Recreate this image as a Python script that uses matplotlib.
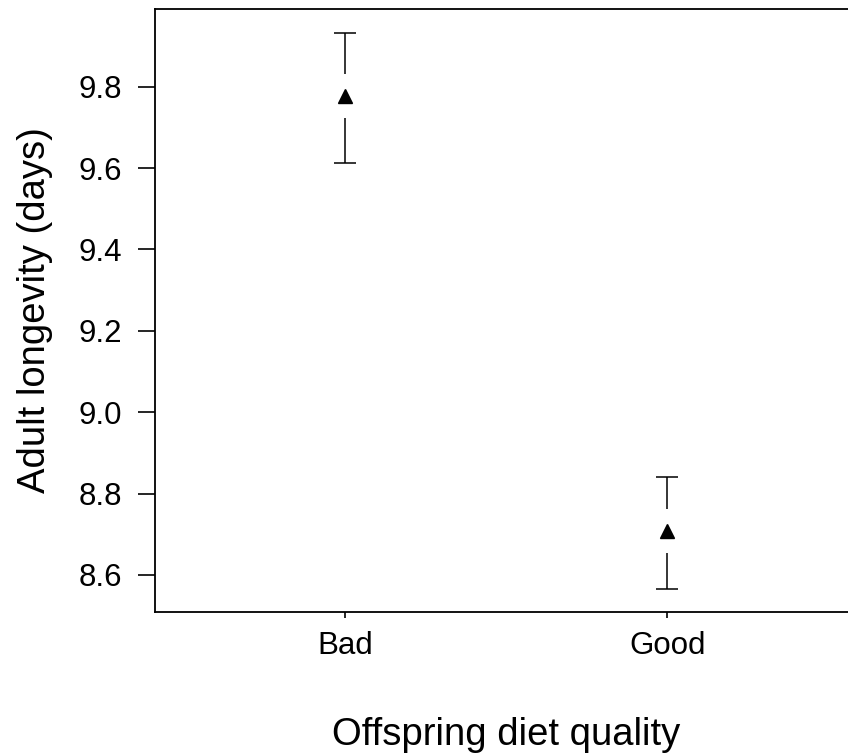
import matplotlib
matplotlib.use('Agg')
import matplotlib.pyplot as plt

plt.rcParams['font.family'] = ['Liberation Sans', 'DejaVu Sans']

# data
diet = ['Bad', 'Good']
longevity_mean = [9.778, 8.708]
longevity_upper = [9.933, 8.840]
longevity_lower = [9.613, 8.566]


def main():
    fig = plt.figure(figsize=(8.48, 7.56), dpi=100)
    # right edge of the box runs slightly past the picture, as in the original
    ax = fig.add_axes([0.1828, 0.1905, 0.828, 0.7976])

    ymin, ymax = 8.509, 9.991
    ax.set_xlim(0.41, 2.59)
    ax.set_ylim(ymin, ymax)

    xs = [i + 1 for i in range(len(diet))]

    # gap between the marker and the whiskers, in data units (about 22 px)
    ax_h_px = 0.7976 * 756
    gap = 22 * (ymax - ymin) / ax_h_px

    ax.vlines(xs, [m + gap for m in longevity_mean], longevity_upper,
              color='black', linewidth=1.1)
    ax.vlines(xs, longevity_lower, [m - gap for m in longevity_mean],
              color='black', linewidth=1.1)
    cap = 0.034
    ax.hlines(longevity_upper, [x - cap for x in xs], [x + cap for x in xs],
              color='black', linewidth=1.1)
    ax.hlines(longevity_lower, [x - cap for x in xs], [x + cap for x in xs],
              color='black', linewidth=1.1)
    ax.plot(xs, longevity_mean, linestyle='none', marker='^', color='black',
            markersize=10)

    ax.set_xticks(xs)
    ax.set_xticklabels(diet)
    ax.set_yticks([8.6, 8.8, 9.0, 9.2, 9.4, 9.6, 9.8])
    ax.set_yticklabels(['8.6', '8.8', '9.0', '9.2', '9.4', '9.6', '9.8'])

    ax.tick_params(axis='y', length=12, width=1.2, pad=12, labelsize=22.5)
    ax.tick_params(axis='x', length=4, width=1.2, pad=10, labelsize=22.5)

    for s in ax.spines.values():
        s.set_linewidth(1.3)

    ax.set_xlabel('Offspring diet quality', fontsize=27.5, labelpad=40)
    ax.set_ylabel('Adult longevity (days)', fontsize=27.5, labelpad=18)

    fig.savefig('out.png', dpi=100)


if __name__ == '__main__':
    main()
